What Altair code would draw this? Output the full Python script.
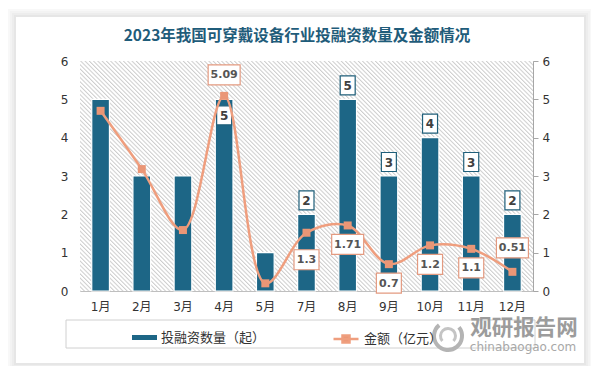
import altair as alt
import pandas as pd

# ---- data ----
months = ["1月", "2月", "3月", "4月", "5月", "7月", "8月", "9月", "10月", "11月", "12月"]
counts = [5, 3, 3, 5, 1, 2, 5, 3, 4, 3, 2]
amounts = [4.70, 3.18, 1.59, 5.09, 0.20, 1.52, 1.71, 0.70, 1.19, 1.10, 0.50]
count_label_text = ["", "", "", "5", "", "2", "5", "3", "4", "3", "2"]
amount_label_text = ["", "", "", "5.09", "", "1.3", "1.71", "0.7", "1.2", "1.1", "0.51"]

title_text = "2023年我国可穿戴设备行业投融资数量及金额情况"
bar_name = "投融资数量（起）"
line_name = "金额（亿元）"

# label placement (pixels, styling only)
count_offsets = {"4月": 16}
count_default = -14
amount_offsets = {"4月": -21, "12月": -24, "7月": 27}
amount_default = 19

W, H = 453, 230
BAR = "#1D6686"
LINE = "#EF9E7E"
MARK = "#EA9676"
CJK = "DejaVu Sans, Noto Sans CJK SC"

df = pd.DataFrame({"month": months, "count": counts, "amount": amounts,
                   "count_label": count_label_text, "amount_label": amount_label_text})
df["bar_series"] = bar_name
df["line_series"] = line_name

def box_path(w, h):
    r = h / w
    return f"M-1,{-r:.3f}L1,{-r:.3f}L1,{r:.3f}L-1,{r:.3f}Z"

df["abox_w"] = df["amount_label"].map(lambda s: 32 if len(s) >= 4 else 25)
df["abox_shape"] = df["abox_w"].map(lambda w: box_path(w, 20))
df["abox_size"] = df["abox_w"] ** 2
df["coff"] = df["month"].map(lambda m: count_offsets.get(m, count_default))
df["aoff"] = df["month"].map(lambda m: amount_offsets.get(m, amount_default))

xenc = alt.X("month:N", sort=months, title=None,
             scale=alt.Scale(paddingInner=0.57, paddingOuter=0.285),
             axis=alt.Axis(labelAngle=0, ticks=False, domainColor="#bfbfbf",
                           labelPadding=10, labelFontSize=12, labelFont=CJK,
                           labelColor="#333333"))

yleft = alt.Y("count:Q", title=None,
              scale=alt.Scale(domain=[0, 6], nice=False),
              axis=alt.Axis(orient="left", values=[0, 1, 2, 3, 4, 5, 6], ticks=False,
                            domain=False, grid=False, labelPadding=12,
                            labelFontSize=12, labelFont="DejaVu Sans",
                            labelColor="#333333"))
yright = alt.Y("amount:Q", title=None,
               scale=alt.Scale(domain=[0, 6], nice=False),
               axis=alt.Axis(orient="right", values=[0, 1, 2, 3, 4, 5, 6], ticks=True,
                             tickSize=5, tickColor="#a6a6a6", domainColor="#a6a6a6",
                             grid=False, labelPadding=4, labelFontSize=12,
                             labelFont="DejaVu Sans", labelColor="#333333"))

base = alt.Chart(df)

bars = base.mark_bar(stroke="white", strokeWidth=1.2).encode(
    x=xenc, y=yleft,
    color=alt.Color("bar_series:N", scale=alt.Scale(range=[BAR]), title=None,
                    legend=alt.Legend(orient="none", legendX=52, legendY=264,
                                      symbolType="M-1,-0.2L1,-0.2L1,0.2L-1,0.2Z",
                                      symbolSize=625, symbolStrokeWidth=0,
                                      labelFont="Noto Sans CJK SC", labelFontSize=13,
                                      labelColor="#333333", labelOffset=4)),
)

def count_labels(off):
    src = base.transform_filter("datum.count_label != ''").transform_filter(
        f"datum.coff == {off}")
    box = src.mark_point(shape=box_path(15, 19), size=225, filled=True,
                         fill="white", stroke="#1F5F7A", strokeWidth=1.2,
                         opacity=1, yOffset=off).encode(x=xenc, y=yleft)
    txt = src.mark_text(font="DejaVu Sans", fontWeight="bold", fontSize=12,
                        color="#404040", baseline="middle", yOffset=off + 0.5).encode(
        x=xenc, y=yleft, text="count_label:N")
    return [box, txt]

left_layers = [bars]
for off in sorted(set(df["coff"])):
    left_layers += count_labels(off)
left_group = alt.layer(*left_layers)

line = base.mark_line(interpolate="catmull-rom", strokeWidth=2.5).encode(
    x=xenc, y=yright,
    stroke=alt.Stroke("line_series:N", scale=alt.Scale(range=[LINE]), title=None,
                      legend=alt.Legend(orient="none", legendX=252, legendY=264,
                                        symbolType="M-1,0L1,0M-0.28,-0.28L0.28,-0.28L0.28,0.28L-0.28,0.28Z",
                                        symbolSize=625, symbolStrokeWidth=2.5,
                                        symbolFillColor=MARK,
                                        labelFont="Noto Sans CJK SC", labelFontSize=13,
                                        labelColor="#333333", labelOffset=4)),
)
pts = base.mark_point(shape="square", filled=True, size=64, color=MARK, opacity=1).encode(
    x=xenc, y=yright)

def amount_labels(off):
    src = base.transform_filter("datum.amount_label != ''").transform_filter(
        f"datum.aoff == {off}")
    box = src.mark_point(filled=True, fill="white", stroke="#E39A80", strokeWidth=1.2,
                         opacity=1, yOffset=off).encode(
        x=xenc, y=yright,
        shape=alt.Shape("abox_shape:N", scale=None),
        size=alt.Size("abox_size:Q", scale=None))
    txt = src.mark_text(font="DejaVu Sans", fontWeight="bold", fontSize=11,
                        color="#555555", baseline="middle", yOffset=off + 0.5).encode(
        x=xenc, y=yright, text="amount_label:N")
    return [box, txt]

right_layers = [line, pts]
for off in sorted(set(df["aoff"])):
    right_layers += amount_labels(off)
right_group = alt.layer(*right_layers)

one = alt.Data(values=[{"a": 1}])

# hatch background as a striped gradient
Hn = H / W
d = (1.0, -Hn)
dd = d[0] ** 2 + d[1] ** 2
lam = (d[0] - d[1]) / dd
x2g, y2g = lam * d[0], 1 + lam * d[1]
N = 160
stops = []
for i in range(N):
    stops.append(alt.GradientStop(offset=i / N, color="#cdcdcd"))
    stops.append(alt.GradientStop(offset=(i + 0.4) / N, color="#ffffff"))
    stops.append(alt.GradientStop(offset=(i + 0.75) / N, color="#ffffff"))
stops.append(alt.GradientStop(offset=1.0, color="#cdcdcd"))
hatch = alt.LinearGradient(gradient="linear", stops=stops, x1=0, y1=1, x2=x2g, y2=y2g)

bg = alt.Chart(one).mark_rect(color=hatch).encode(
    x=alt.value(0), x2=alt.value(W), y=alt.value(0), y2=alt.value(H))

# card shadow (decoration around the white card)
card = (-64, -44, 504, 302)
shadow_layers = []
for k, col in reversed(list(enumerate(["#e6e6e6", "#ededed", "#f3f3f3", "#f8f8f8"]))):
    e = 1 + 2 * k
    shadow_layers.append(alt.Chart(one).mark_rect(fillOpacity=0, stroke=col, strokeWidth=2).encode(
        x=alt.value(card[0] - e), x2=alt.value(card[2] + e),
        y=alt.value(card[1] - e), y2=alt.value(card[3] + e)))

title = alt.Chart(one).mark_text(text=title_text, font="Noto Sans CJK SC", fontWeight="bold",
                                 fontSize=15.5, color="#1F5C7A", align="center",
                                 baseline="middle").encode(x=alt.value(217), y=alt.value(-25))

legend_box = alt.Chart(one).mark_rect(fill="white", fillOpacity=0, stroke="#d0d0d0",
                                      strokeWidth=1).encode(
    x=alt.value(-14), x2=alt.value(455), y=alt.value(259), y2=alt.value(287))

logo1 = alt.Chart(one).mark_arc(theta=0.9, theta2=5.6, radius=16, radius2=12,
                                color="#b4b4b4").encode(x=alt.value(368), y=alt.value(275))
logo2 = alt.Chart(one).mark_arc(theta=4.0, theta2=8.6, radius=9, radius2=6,
                                color="#c4c4c4").encode(x=alt.value(368), y=alt.value(275))
wm1 = alt.Chart(one).mark_text(text="观研报告网", font="Noto Sans CJK SC", fontWeight="bold",
                               fontSize=21.5, color="#9c9c9c", align="center",
                               baseline="middle").encode(x=alt.value(444), y=alt.value(268))
wm2 = alt.Chart(one).mark_text(text="chinabaogao.com", font="DejaVu Sans", fontSize=12,
                               color="#a8a8a8", align="center",
                               baseline="middle").encode(x=alt.value(443), y=alt.value(286))

chart = alt.layer(*shadow_layers, title, bg, legend_box, left_group, right_group,
                  logo1, logo2, wm1, wm2).resolve_scale(
    y="independent", color="independent", stroke="independent"
).properties(
    width=W, height=H,
    padding={"left": 72, "top": 53, "right": 58, "bottom": 75},
    autosize=alt.AutoSizeParams(type="none"),
).configure_view(stroke=None).configure(background="white")

chart.save("out.html", embed_options={"renderer": "svg", "actions": False})
